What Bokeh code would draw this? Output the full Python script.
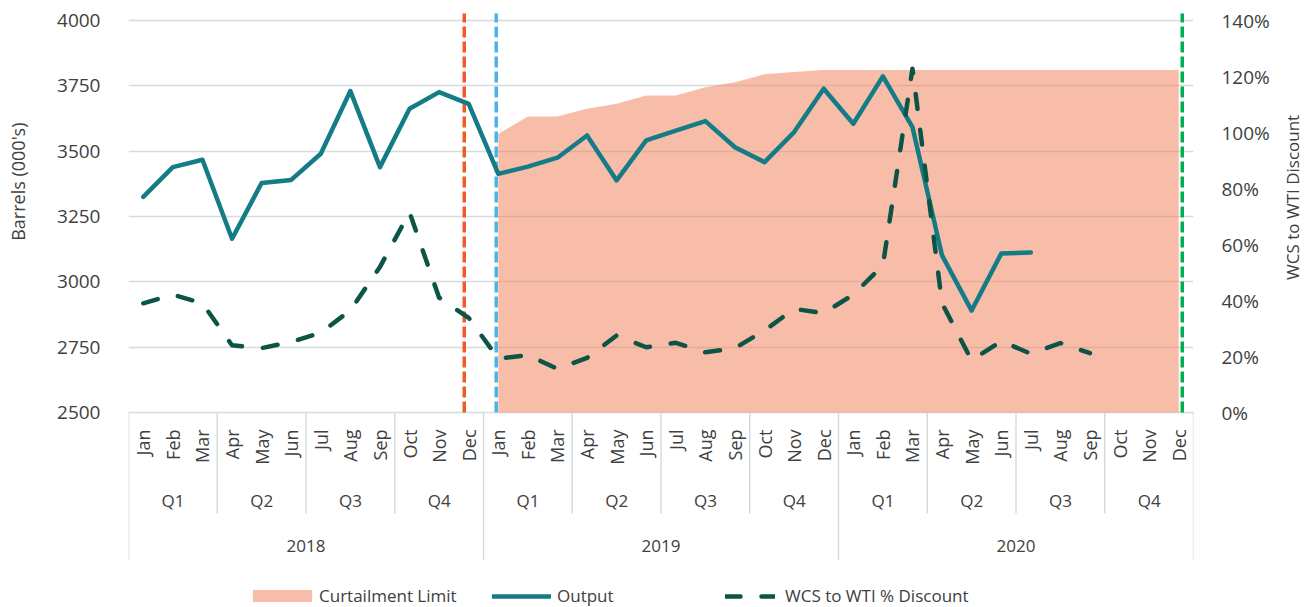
import math
from bokeh.plotting import figure
from bokeh.layouts import row
from bokeh.models import (Range1d, LinearAxis, FixedTicker, Legend, LegendItem,
                          ColumnDataSource, Grid)
from bokeh.core.properties import value
from bokeh.embed import file_html
from bokeh.resources import INLINE

# ---------------- data ----------------
years = ["2018", "2019", "2020"]
quarters = ["Q1", "Q2", "Q3", "Q4"]
months = ["Jan", "Feb", "Mar", "Apr", "May", "Jun",
          "Jul", "Aug", "Sep", "Oct", "Nov", "Dec"]

# Output, barrels (000's), Jan 2018 .. Jul 2020
output = [3325, 3439, 3467, 3165, 3378, 3390, 3490, 3730, 3439, 3662, 3726, 3681,
          3413, 3441, 3475, 3560, 3388, 3541, 3579, 3615, 3515, 3458, 3573, 3739,
          3605, 3786, 3592, 3101, 2890, 3108, 3112]

# Curtailment limit, barrels (000's), Jan 2019 .. Dec 2020
curtailment = [3566, 3633, 3633, 3662, 3681, 3713, 3713, 3745, 3764, 3794, 3803, 3811,
               3811, 3811, 3811, 3811, 3811, 3811, 3811, 3811, 3811, 3811, 3811, 3811]
curtailment_start = 12  # month index of Jan 2019

# WCS to WTI % discount, Jan 2018 .. Sep 2020
wcs_discount = [39.0, 42.1, 39.0, 24.0, 23.0, 25.2, 28.5, 36.5, 52.0, 71.5, 41.0, 33.8,
                19.2, 20.5, 15.6, 19.5, 27.5, 23.3, 24.9, 21.5, 23.0, 29.3, 37.0, 35.5,
                42.1, 52.5, 122.8, 39.0, 18.6, 25.5, 21.0, 24.8, 21.2]

# event marker positions (in months from Jan 2018) and colours
event_x = [11.35, 12.43, 35.62]
event_colors = ["#F05A24", "#4BB4E6", "#00B050"]

left_ticks = [2500, 2750, 3000, 3250, 3500, 3750, 4000]
pct_ticks = [0, 20, 40, 60, 80, 100, 120, 140]
pct_labels = [f"{t}%" for t in pct_ticks]

left_title = "Barrels (000's)"
right_title = "WCS to WTI Discount"

# ---------------- geometry ----------------
H = 607
LW, RW = 34, 36                 # side strips holding the axis titles
MW = 1316 - LW - RW
BL, BR, BT = 128 - LW, (LW + MW) - 1193, 10
BASE, TOP = 2500.0, 4000.0
upp = (TOP - BASE) / 392.0          # data units per pixel
def below(px):
    return BASE - px * upp
y_end = BASE + 402 * upp
y_start = below(195)
def to_pct(v):
    return (v - BASE) / (TOP - BASE) * 140.0

FONT = "Open Sans"
TXT = "#404040"
GRID = "#D6DCDC"

p = figure(width=MW, height=H, output_backend="svg", toolbar_location=None,
           x_range=Range1d(0, 36), y_range=Range1d(y_start, y_end),
           x_axis_location=None, y_axis_location=None,
           min_border_left=BL, min_border_right=BR, min_border_top=BT, min_border_bottom=0)
p.outline_line_color = None
p.xgrid.visible = False
p.ygrid.visible = False
p.extra_y_ranges = {"pct": Range1d(to_pct(y_start), to_pct(y_end))}

p.add_layout(Grid(dimension=1, ticker=FixedTicker(ticks=left_ticks),
                  grid_line_color=GRID, grid_line_width=1.5))

ax_l = LinearAxis(ticker=FixedTicker(ticks=left_ticks))
ax_r = LinearAxis(ticker=FixedTicker(ticks=pct_ticks), y_range_name="pct",
                  major_label_overrides=dict(zip(pct_ticks, pct_labels)))
for ax in (ax_l, ax_r):
    ax.axis_line_color = None
    ax.major_tick_line_color = None
    ax.minor_tick_line_color = None
    ax.major_label_standoff = 22
    ax.major_label_text_font = FONT
    ax.major_label_text_font_size = "19px"
    ax.major_label_text_color = TXT
p.add_layout(ax_l, "left")
p.add_layout(ax_r, "right")

# ---------------- category axis (drawn) ----------------
mx = [i + 0.5 for i in range(36)]
mtext = [months[i % 12] for i in range(36)]
p.text(x=mx, y=[below(17)] * 36, text=mtext, angle=math.pi / 2,
       text_align="right", text_baseline="middle",
       text_font=value(FONT), text_font_size="18px", text_color=TXT)
qx = [3 * q + 1.5 for q in range(12)]
qtext = [quarters[q % 4] for q in range(12)]
p.text(x=qx, y=[below(88)] * 12, text=qtext, text_align="center", text_baseline="middle",
       text_font=value(FONT), text_font_size="17px", text_color=TXT)
yx = [12 * k + 6 for k in range(3)]
p.text(x=yx, y=[below(133)] * 3, text=years, text_align="center", text_baseline="middle",
       text_font=value(FONT), text_font_size="17px", text_color=TXT)

qb = [b for b in range(0, 37, 3) if b % 12 != 0]
yb = list(range(0, 37, 12))
p.segment(x0=qb, y0=[BASE] * len(qb), x1=qb, y1=[below(101)] * len(qb),
          line_color=GRID, line_width=1.5)
p.segment(x0=yb, y0=[BASE] * len(yb), x1=yb, y1=[below(148)] * len(yb),
          line_color=GRID, line_width=1.5)

# ---------------- series ----------------
cx = [curtailment_start + i + 0.5 for i in range(len(curtailment))]
r_area = p.varea(x=cx, y1=BASE, y2=curtailment, fill_color="#F17C53", fill_alpha=0.5)

ev = ColumnDataSource(dict(x=event_x, c=event_colors,
                           y0=[BASE] * 3, y1=[BASE + 399 * upp] * 3))
p.segment(x0="x", y0="y0", x1="x", y1="y1", line_color="c", source=ev,
          line_width=3.5, line_dash="11 4")

ox = [i + 0.5 for i in range(len(output))]
r_out = p.line(ox, output, line_color="#147C86", line_width=4.5,
               line_join="round", line_cap="round")

wx = [i + 0.5 for i in range(len(wcs_discount))]
r_wcs = p.line(wx, wcs_discount, y_range_name="pct", line_color="#0B5446",
               line_width=4.5, line_dash="15 21", line_cap="round", line_join="round")

# ---------------- legends ----------------
def mk_legend(label, r, x, gw, gh, standoff):
    lg = Legend(items=[LegendItem(label=label, renderers=[r])], location=(x, 0),
                orientation="horizontal", glyph_width=gw, glyph_height=gh,
                label_standoff=standoff, padding=0, margin=0, spacing=0,
                border_line_color=None, background_fill_alpha=0,
                label_text_font=FONT, label_text_font_size="17px",
                label_text_color=TXT)
    p.add_layout(lg, "center")

mk_legend("Curtailment Limit", r_area, 117, 74, 15, 0)
mk_legend("Output", r_out, 364, 59, 12, 6)
mk_legend("WCS to WTI % Discount", r_wcs, 597, 50, 12, 10)

# ---------------- axis-title strips ----------------
def strip(width, text, cx, cy, size):
    f = figure(width=width, height=H, output_backend="svg", toolbar_location=None,
               x_range=Range1d(0, width), y_range=Range1d(0, H),
               x_axis_location=None, y_axis_location=None,
               min_border_left=0, min_border_right=0, min_border_top=0, min_border_bottom=0)
    f.outline_line_color = None
    f.xgrid.visible = False
    f.ygrid.visible = False
    f.text(x=[cx], y=[H - cy], text=[text], angle=math.pi / 2,
           text_align="center", text_baseline="middle",
           text_font=value(FONT), text_font_size=size, text_color=TXT)
    return f

left_strip = strip(LW, left_title, 17, 174, "18px")
right_strip = strip(RW, right_title, 1292 - (LW + MW), 190, "17px")

layout = row(left_strip, p, right_strip, spacing=0)
open("out.html", "w").write(file_html(layout, INLINE))
